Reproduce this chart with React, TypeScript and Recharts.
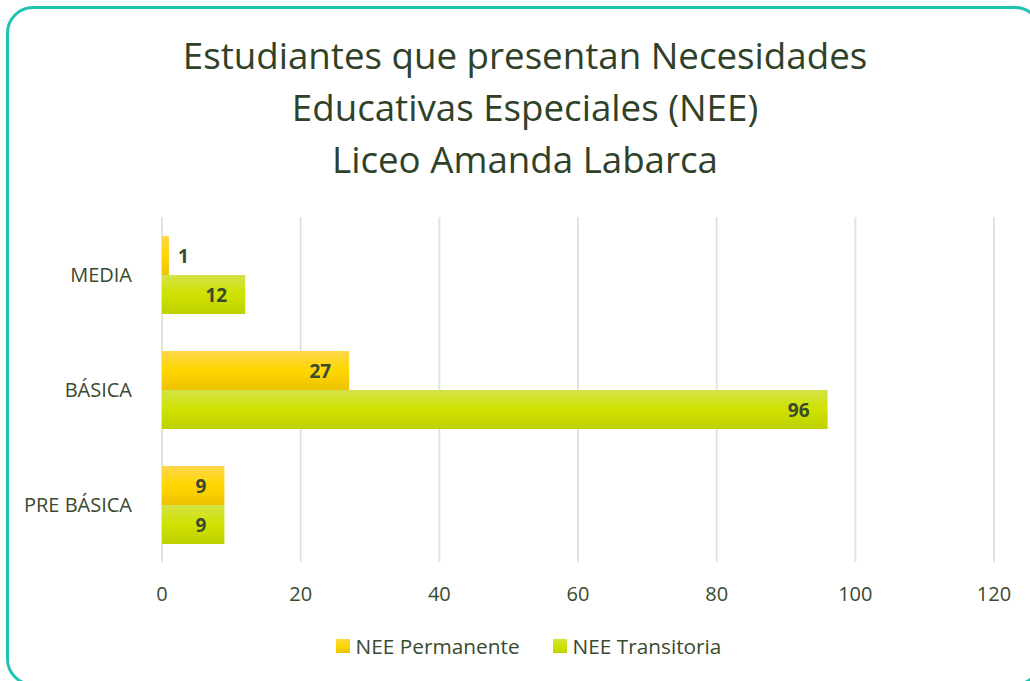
import React from "react";
import { BarChart, Bar, XAxis, YAxis, CartesianGrid, LabelList } from "recharts";

const categories = ["MEDIA", "BÁSICA", "PRE BÁSICA"];
const permanente = [1, 27, 9];
const transitoria = [12, 96, 9];
const xTicks = [0, 20, 40, 60, 80, 100, 120];

const titleLines = [
  "Estudiantes que presentan Necesidades",
  "Educativas Especiales (NEE)",
  "Liceo Amanda Labarca",
];

const FONT = "'Open Sans', sans-serif";
const TEXT = "#394a2e";

const data = categories.map((c, i) => ({
  name: c,
  permanente: permanente[i],
  transitoria: transitoria[i],
}));

function ValueLabel(props: any) {
  const { x, y, width, height, value } = props;
  const inside = width > 30;
  return (
    <text
      x={inside ? x + width - 18 : x + width + 9}
      y={y + height / 2}
      textAnchor={inside ? "end" : "start"}
      dominantBaseline="central"
      fontFamily={FONT}
      fontWeight={700}
      fontSize={19}
      fill={TEXT}
    >
      {value}
    </text>
  );
}

function Swatch({ from, mid, to }: { from: string; mid: string; to: string }) {
  return (
    <span
      style={{
        display: "inline-block",
        width: 14,
        height: 14,
        marginRight: 6,
        background: `linear-gradient(${from}, ${mid}, ${to})`,
      }}
    />
  );
}

export default function App() {
  return (
    <div style={{ position: "absolute", left: 0, top: 0, width: 1030, height: 681, overflow: "hidden", background: "#fff" }}>
      <div
        style={{
          position: "absolute",
          left: 6,
          top: 6,
          width: 1030,
          height: 674,
          border: "3px solid #1ec4b1",
          borderRadius: 27,
        }}
      />
      <div
        style={{
          position: "absolute",
          left: 0,
          top: 29,
          width: 1050,
          textAlign: "center",
          fontFamily: FONT,
          fontSize: 36.7,
          lineHeight: "52px",
          color: "#2f4128",
        }}
      >
        {titleLines.map((t) => (
          <div key={t}>{t}</div>
        ))}
      </div>
      <div style={{ position: "absolute", left: 0, top: 0 }}>
        <BarChart
          width={1030}
          height={681}
          data={data}
          layout="vertical"
          margin={{ top: 217, right: 36, left: 0, bottom: 79 }}
          barGap={0}
          barSize={39}
        >
          <defs>
            <linearGradient id="gPerm" x1="0" y1="0" x2="0" y2="1">
              <stop offset="0%" stopColor="#ffd64a" />
              <stop offset="50%" stopColor="#ffd700" />
              <stop offset="100%" stopColor="#ecc300" />
            </linearGradient>
            <linearGradient id="gTrans" x1="0" y1="0" x2="0" y2="1">
              <stop offset="0%" stopColor="#d4e247" />
              <stop offset="50%" stopColor="#cfe200" />
              <stop offset="100%" stopColor="#bfd100" />
            </linearGradient>
          </defs>
          <CartesianGrid horizontal={false} stroke="#e0e7da" strokeWidth={2} />
          <XAxis
            type="number"
            domain={[0, 120]}
            ticks={xTicks}
            axisLine={false}
            tickLine={false}
            tickMargin={19}
            height={40}
            tick={{ fill: TEXT, fontSize: 20, fontFamily: FONT }}
          />
          <YAxis
            type="category"
            dataKey="name"
            width={162}
            axisLine={false}
            tickLine={false}
            tickMargin={24}
            tick={{ fill: TEXT, fontSize: 20, fontFamily: FONT }}
          />
          <Bar dataKey="permanente" fill="url(#gPerm)" isAnimationActive={false}>
            <LabelList dataKey="permanente" content={ValueLabel} />
          </Bar>
          <Bar dataKey="transitoria" fill="url(#gTrans)" isAnimationActive={false}>
            <LabelList dataKey="transitoria" content={ValueLabel} />
          </Bar>
        </BarChart>
      </div>
      <div
        style={{
          position: "absolute",
          left: 0,
          top: 632,
          width: 1057,
          display: "flex",
          justifyContent: "center",
          alignItems: "center",
          fontFamily: FONT,
          fontSize: 20.8,
          color: TEXT,
        }}
      >
        <span style={{ display: "flex", alignItems: "center", marginRight: 33 }}>
          <Swatch from="#ffd64a" mid="#ffd700" to="#ecc300" />
          NEE Permanente
        </span>
        <span style={{ display: "flex", alignItems: "center" }}>
          <Swatch from="#d4e247" mid="#cfe200" to="#bfd100" />
          NEE Transitoria
        </span>
      </div>
    </div>
  );
}
